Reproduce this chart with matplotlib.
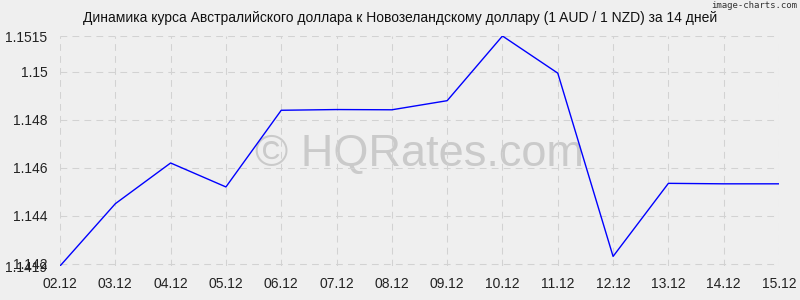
import matplotlib
matplotlib.use("Agg")
import matplotlib.pyplot as plt

dates = ["02.12", "03.12", "04.12", "05.12", "06.12", "07.12", "08.12",
         "09.12", "10.12", "11.12", "12.12", "13.12", "14.12", "15.12"]
rates = [1.1419, 1.1445, 1.1462, 1.1452, 1.1484, 1.14843, 1.14842,
         1.1488, 1.1515, 1.14995, 1.1423, 1.14535, 1.14533, 1.14533]
ytick_vals = [1.1419, 1.142, 1.144, 1.146, 1.148, 1.15, 1.1515]
ytick_labels = ["1.1419", "1.142", "1.144", "1.146", "1.148", "1.15", "1.1515"]
title = "Динамика курса Австралийского доллара к Новозеландскому доллару (1 AUD / 1 NZD) за 14 дней"

plt.rcParams['font.family'] = ['Liberation Sans', 'DejaVu Sans']
bg = "#efefef"
fig = plt.figure(figsize=(8, 3), dpi=100, facecolor=bg)
ax = fig.add_axes([60/800, 1 - 266/300, (779-60)/800, (266-36)/300], facecolor=bg)

x = list(range(len(dates)))
ax.plot(x, rates, color="#0000ff", lw=1.0, zorder=3)
ax.set_xlim(0, len(dates) - 1)
ax.set_ylim(min(rates), max(rates))
ax.set_xticks(x)
ax.set_xticklabels(dates, fontsize=10)
ax.set_yticks(ytick_vals)
ax.set_yticklabels(ytick_labels, fontsize=10)
ax.tick_params(length=0, pad=8, colors="#222222")
ax.tick_params(axis='y', pad=9)
for s in ax.spines.values():
    s.set_visible(False)
ax.grid(True, color="#d2d2d2", linestyle=(0, (6.5, 5)), lw=0.75, zorder=0)

ax.text(0.5, 0.485, "© HQRates.com", transform=ax.transAxes, fontsize=32.5,
        color="#cacaca", ha="center", va="center", zorder=1,
        family=["Liberation Sans", "DejaVu Sans"])
fig.text(0.5, 1 - 18/300, title, ha="center", va="center", fontsize=10, color="#111111")
fig.text(797/800, 1 - 6/300, "image-charts.com", ha="right", va="center",
         fontsize=6.5, color="#333333", family=["DejaVu Sans Mono", "DejaVu Sans"])

fig.savefig("out.png", dpi=100, facecolor=bg)
